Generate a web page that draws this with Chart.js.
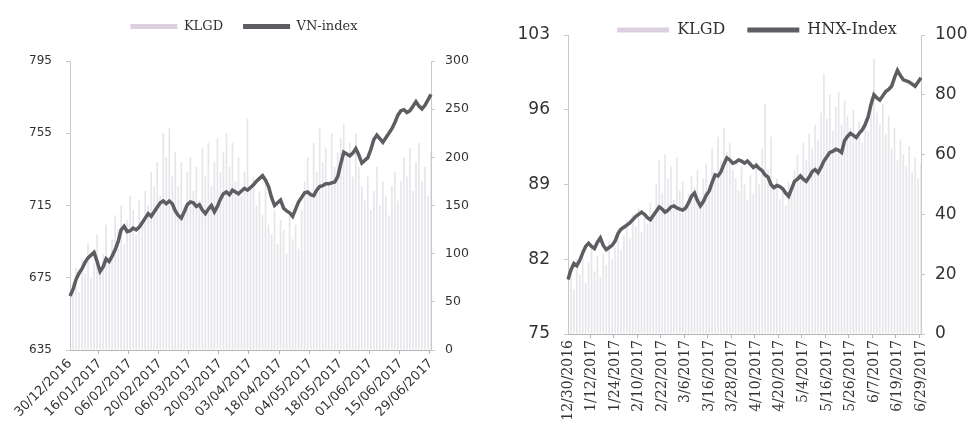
<!DOCTYPE html>
<html>
<head>
<meta charset="utf-8">
<script src="https://cdn.jsdelivr.net/npm/chart.js@4.4.0/dist/chart.umd.min.js"></script>
<style>
  html, body { margin: 0; padding: 0; background: #fff; overflow: hidden; width: 976px; height: 448px; }
  #left { position: absolute; left: 0; top: 0; width: 488px; height: 448px; }
  #right { position: absolute; left: 488px; top: 0; width: 538px; height: 448px; }
</style>
</head>
<body>
<div id="left"><canvas id="vn"></canvas></div>
<div id="right"><canvas id="hnx"></canvas></div>
<script>
// trading days, 30/12/2016 - 29/06/2017
const dates = [
  '30/12/2016',
  '03/01/2017','04/01/2017','05/01/2017','06/01/2017','09/01/2017','10/01/2017','11/01/2017','12/01/2017','13/01/2017',
  '16/01/2017','17/01/2017','18/01/2017','19/01/2017','20/01/2017','23/01/2017','24/01/2017','25/01/2017',
  '02/02/2017','03/02/2017','06/02/2017','07/02/2017','08/02/2017','09/02/2017','10/02/2017','13/02/2017','14/02/2017',
  '15/02/2017','16/02/2017','17/02/2017','20/02/2017','21/02/2017','22/02/2017','23/02/2017','24/02/2017','27/02/2017','28/02/2017',
  '01/03/2017','02/03/2017','03/03/2017','06/03/2017','07/03/2017','08/03/2017','09/03/2017','10/03/2017','13/03/2017',
  '14/03/2017','15/03/2017','16/03/2017','17/03/2017','20/03/2017','21/03/2017','22/03/2017','23/03/2017','24/03/2017',
  '27/03/2017','28/03/2017','29/03/2017','30/03/2017','31/03/2017',
  '03/04/2017','04/04/2017','05/04/2017','07/04/2017','10/04/2017','11/04/2017','12/04/2017','13/04/2017','14/04/2017',
  '17/04/2017','18/04/2017','19/04/2017','20/04/2017','21/04/2017','24/04/2017','25/04/2017','26/04/2017','27/04/2017','28/04/2017',
  '03/05/2017','04/05/2017','05/05/2017','08/05/2017','09/05/2017','10/05/2017','11/05/2017','12/05/2017','15/05/2017',
  '16/05/2017','17/05/2017','18/05/2017','19/05/2017','22/05/2017','23/05/2017','24/05/2017','25/05/2017','26/05/2017',
  '29/05/2017','30/05/2017','31/05/2017',
  '01/06/2017','02/06/2017','05/06/2017','06/06/2017','07/06/2017','08/06/2017','09/06/2017','12/06/2017','13/06/2017',
  '14/06/2017','15/06/2017','16/06/2017','19/06/2017','20/06/2017','21/06/2017','22/06/2017','23/06/2017','26/06/2017',
  '27/06/2017','28/06/2017','29/06/2017'
];

const vnIndex = [
  664.9, 668.5, 674.0, 677.5, 680.0, 683.5, 686.0, 687.5, 689.0, 684.0,
  678.5, 681.0, 685.5, 684.0, 687.0, 690.5, 695.0, 701.5, 703.5, 700.5,
  701.0, 702.5, 701.5, 703.0, 705.5, 708.0, 710.5, 709.0, 711.5, 714.0,
  716.5, 717.5, 716.0, 717.5, 716.0, 712.0, 709.5, 708.0, 711.5, 715.5,
  717.0, 716.5, 714.5, 715.5, 712.5, 710.5, 713.0, 715.0, 711.5, 714.5,
  718.5, 721.5, 722.5, 721.0, 723.5, 722.5, 721.5, 723.0, 724.5, 723.5,
  725.0, 726.5, 728.5, 730.0, 731.5, 729.0, 725.5, 719.5, 715.0, 716.5,
  718.0, 713.5, 712.0, 711.0, 709.0, 713.0, 717.0, 719.5, 722.0, 722.5,
  721.0, 720.5, 723.5, 725.5, 726.0, 727.0, 727.0, 727.5, 728.0, 731.0,
  738.0, 744.5, 743.5, 742.5, 744.0, 746.5, 743.0, 738.5, 740.0, 741.5,
  746.0, 751.5, 754.0, 752.0, 750.0, 752.5, 755.0, 757.5, 761.0, 765.0,
  767.5, 768.0, 766.5, 767.5, 770.0, 772.5, 770.0, 768.5, 770.5, 773.5,
  776.5
];

const vnVolume = [
  55, 70, 85, 60, 95, 80, 110, 75, 90, 120, 85,
  100, 130, 95, 115, 140, 125, 150, 110, 135, 160,
  145, 120, 155, 130, 165, 150, 185, 170, 195, 160,
  225, 200, 230, 180, 205, 170, 195, 150, 185, 200,
  165, 190, 155, 210, 180, 215, 170, 195, 220, 185,
  205, 225, 190, 215, 175, 200, 160, 185, 240, 170,
  180, 150, 165, 140, 175, 130, 120, 145, 110, 135,
  125, 100, 140, 115, 130, 105, 145, 175, 200, 160,
  215, 185, 230, 195, 210, 175, 225, 190, 205, 220,
  235, 200, 215, 180, 225, 190, 170, 155, 180, 145,
  165, 190, 150, 175, 160, 140, 170, 185, 155, 175,
  200, 180, 210, 165, 195, 215, 175, 190, 160, 205
];

const hnxIndex = [
  80.1, 81.0, 81.6, 81.4, 81.9, 82.6, 83.2, 83.5, 83.2, 83.0,
  83.6, 84.0, 83.3, 82.9, 83.1, 83.3, 83.7, 84.4, 84.8, 85.0,
  85.2, 85.4, 85.7, 86.0, 86.2, 86.4, 86.2, 85.9, 85.7, 86.1,
  86.5, 86.9, 86.7, 86.4, 86.6, 86.9, 87.0, 86.8, 86.7, 86.6,
  86.8, 87.3, 87.9, 88.2, 87.5, 87.0, 87.4, 88.0, 88.4, 89.2,
  89.9, 89.8, 90.2, 90.9, 91.5, 91.3, 91.0, 91.1, 91.3, 91.2,
  91.0, 91.2, 90.9, 90.6, 90.8, 90.5, 90.3, 89.9, 89.7, 89.0,
  88.7, 88.9, 88.8, 88.6, 88.2, 87.9, 88.6, 89.3, 89.5, 89.8,
  89.5, 89.3, 89.7, 90.2, 90.4, 90.1, 90.6, 91.2, 91.6, 92.0,
  92.1, 92.3, 92.2, 92.0, 93.1, 93.5, 93.8, 93.6, 93.4, 93.8,
  94.1, 94.6, 95.3, 96.5, 97.4, 97.1, 96.9, 97.3, 97.7, 97.9,
  98.2, 99.0, 99.7, 99.2, 98.8, 98.7, 98.6, 98.4, 98.2, 98.6,
  99.0
];

const hnxVolume = [
  18, 22, 15, 25, 20, 28, 17, 24, 30, 21, 26,
  19, 27, 23, 31, 25, 29, 35, 28, 33, 38,
  32, 40, 36, 42, 34, 39, 37, 44, 41, 50,
  58, 47, 60, 52, 56, 45, 59, 48, 51, 43,
  47, 53, 49, 55, 46, 52, 57, 50, 62, 54,
  66, 58, 69, 61, 64, 55, 52, 48, 56, 50,
  45, 53, 47, 58, 50, 62, 77, 55, 66, 48,
  52, 45, 49, 43, 51, 47, 55, 60, 53, 64,
  58, 67, 62, 70, 65, 74, 87, 72, 80, 68,
  76, 81, 70, 78, 73, 69, 75, 66, 71, 64,
  72, 68, 79, 92, 74, 70, 77, 67, 73, 62,
  69, 58, 65, 60, 56, 63, 54, 59, 52, 57
];

const barColor = 'rgba(196, 193, 204, 0.42)';
const legendBarColor = '#dccfe0';
const lineColor = '#5e5e62';
const textColor = '#333';

function toUS(d) {
  const [dd, mm, yy] = d.split('/');
  return (+mm) + '/' + (+dd) + '/' + yy;
}

// force a fixed legend height so the plot area lands where it should
function legendHeight(h) {
  return {
    id: 'legendHeight',
    beforeInit(chart) {
      const fit = chart.legend.fit;
      chart.legend.fit = function () { fit.call(this); this.height = h; };
    }
  };
}

function legendLabels(chart) {
  const items = Chart.defaults.plugins.legend.labels.generateLabels(chart);
  items.forEach(it => {
    it.lineWidth = 0;
    it.strokeStyle = 'rgba(0,0,0,0)';
    it.fillStyle = it.datasetIndex === 0 ? legendBarColor : lineColor;
  });
  return items;
}

function buildChart(id, opts) {
  return new Chart(document.getElementById(id), {
    type: 'bar',
    data: {
      labels: opts.labels,
      datasets: [
        {
          label: 'KLGD',
          data: opts.volume,
          yAxisID: 'y1',
          backgroundColor: barColor,
          barPercentage: 0.55,
          categoryPercentage: 1,
          order: 1
        },
        {
          type: 'line',
          label: opts.name,
          data: opts.index,
          yAxisID: 'y',
          borderColor: lineColor,
          backgroundColor: lineColor,
          borderWidth: 3.5,
          pointRadius: 0,
          tension: 0,
          order: 0
        }
      ]
    },
    options: {
      responsive: true,
      maintainAspectRatio: false,
      animation: false,
      layout: { padding: 0 },
      plugins: {
        tooltip: { enabled: false },
        legend: {
          reverse: true,
          labels: {
            color: textColor,
            font: { family: 'DejaVu Serif', size: opts.legendFont },
            boxWidth: opts.legendBox,
            boxHeight: 5,
            padding: opts.legendPad,
            generateLabels: legendLabels
          }
        }
      },
      scales: {
        x: {
          offset: false,
          afterFit: s => { s.height = opts.xHeight; },
          border: { color: '#b5b5b5' },
          grid: {
            drawOnChartArea: false,
            tickLength: 4,
            color: c => c.index % opts.every === 0 ? '#b5b5b5' : 'rgba(0,0,0,0)'
          },
          ticks: {
            autoSkip: false,
            minRotation: opts.rotation,
            maxRotation: opts.rotation,
            padding: 2,
            color: textColor,
            font: { family: opts.xFamily, size: opts.xFont },
            callback: function (v, i) { return i % opts.every === 0 ? this.getLabelForValue(v) : ''; }
          }
        },
        y: {
          position: 'left',
          min: opts.yMin, max: opts.yMax,
          afterFit: s => { s.width = opts.yWidth; },
          border: { color: '#c8c8c8' },
          grid: { drawOnChartArea: false, tickLength: 4, color: '#c8c8c8' },
          ticks: { stepSize: opts.yStep, padding: opts.yPad, color: textColor, font: { family: 'DejaVu Sans', size: opts.yFont } }
        },
        y1: {
          position: 'right',
          min: 0, max: opts.vMax,
          afterFit: s => { s.width = opts.y1Width; },
          border: { color: '#c8c8c8' },
          grid: { drawOnChartArea: false, tickLength: 4, color: '#c8c8c8' },
          ticks: { stepSize: opts.vStep, padding: opts.y1Pad, color: textColor, font: { family: 'DejaVu Sans', size: opts.y1Font } }
        }
      }
    },
    plugins: [legendHeight(opts.legendH)]
  });
}

buildChart('vn', {
  labels: dates,
  name: 'VN-index',
  index: vnIndex,
  volume: vnVolume,
  every: 10,
  rotation: 45,
  xFamily: 'DejaVu Sans',
  xFont: 13,
  xHeight: 98,
  yMin: 635, yMax: 795, yStep: 40, yFont: 12, yPad: 14, yWidth: 70,
  vMax: 300, vStep: 50, y1Font: 12.5, y1Pad: 10, y1Width: 57,
  legendFont: 13, legendBox: 47, legendPad: 20, legendH: 61
});

buildChart('hnx', {
  labels: dates.map(toUS),
  name: 'HNX-Index',
  index: hnxIndex,
  volume: hnxVolume,
  every: 8,
  rotation: 90,
  xFamily: 'DejaVu Serif',
  xFont: 14,
  xHeight: 114,
  yMin: 75, yMax: 103, yStep: 7, yFont: 17, yPad: 14, yWidth: 80,
  vMax: 100, vStep: 20, y1Font: 17, y1Pad: 10, y1Width: 105,
  legendFont: 16, legendBox: 52, legendPad: 22, legendH: 35
});
</script>
</body>
</html>
